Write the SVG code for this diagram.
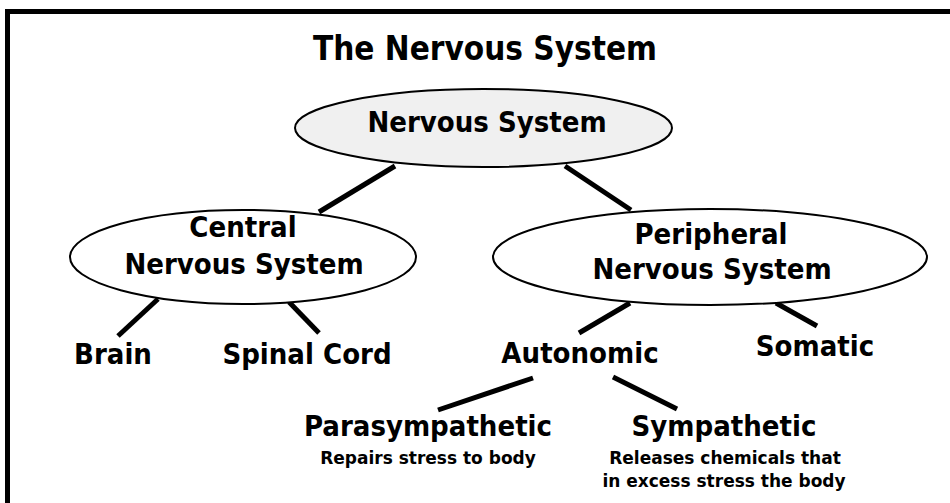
<svg xmlns="http://www.w3.org/2000/svg" width="950" height="503" viewBox="0 0 950 503">
  <style>
    text { font-family: "DejaVu Sans", Verdana, sans-serif; font-weight: bold; fill: #000; text-anchor: middle; }
    .title, .label { font-family: "DejaVu Sans Condensed", "DejaVu Sans", sans-serif; font-stretch: condensed; }
    .title { font-size: 33px; }
    .label { font-size: 29px; }
    .note { font-size: 17px; }
    .node ellipse { stroke: #000; stroke-width: 2; }
    #connectors line { stroke: #000; stroke-width: 5; }
  </style>
  <rect x="0" y="0" width="950" height="503" fill="#fff"/>
  <!-- frame, running off the right and bottom edges -->
  <rect x="7.5" y="11.5" width="1000" height="600" fill="none" stroke="#000" stroke-width="5"/>
  <text class="title" x="485" y="60">The Nervous System</text>

  <g id="connectors">
    <line x1="395" y1="166" x2="319" y2="212"/>
    <line x1="565" y1="166" x2="631" y2="210"/>
    <line x1="158" y1="299" x2="118" y2="336"/>
    <line x1="289" y1="302" x2="319" y2="333"/>
    <line x1="630" y1="303" x2="579" y2="333"/>
    <line x1="776" y1="303" x2="817" y2="326"/>
    <line x1="533" y1="378" x2="438" y2="410"/>
    <line x1="613" y1="377" x2="677" y2="409"/>
  </g>

  <g id="nervous-system" class="node">
    <ellipse cx="483.5" cy="128" rx="188.5" ry="39" fill="#f0f0f0"/>
    <text class="label" x="487" y="132">Nervous System</text>
  </g>
  <g id="central" class="node">
    <ellipse cx="243" cy="257" rx="173" ry="47" fill="#fff"/>
    <text class="label" x="243" y="237">Central</text>
    <text class="label" x="244" y="274">Nervous System</text>
  </g>
  <g id="peripheral" class="node">
    <ellipse cx="710" cy="257" rx="217" ry="48" fill="#fff"/>
    <text class="label" x="711" y="244">Peripheral</text>
    <text class="label" x="712" y="279">Nervous System</text>
  </g>
  <g id="brain" class="node">
    <text class="label" x="113" y="364">Brain</text>
  </g>
  <g id="spinal-cord" class="node">
    <text class="label" x="307" y="364">Spinal Cord</text>
  </g>
  <g id="autonomic" class="node">
    <text class="label" x="580" y="363">Autonomic</text>
  </g>
  <g id="somatic" class="node">
    <text class="label" x="815" y="356">Somatic</text>
  </g>
  <g id="parasympathetic" class="node">
    <text class="label" x="428" y="436">Parasympathetic</text>
    <text class="note" x="428" y="464">Repairs stress to body</text>
  </g>
  <g id="sympathetic" class="node">
    <text class="label" x="724" y="436">Sympathetic</text>
    <text class="note" x="725" y="464">Releases chemicals that</text>
    <text class="note" x="724" y="487">in excess stress the body</text>
  </g>
</svg>
